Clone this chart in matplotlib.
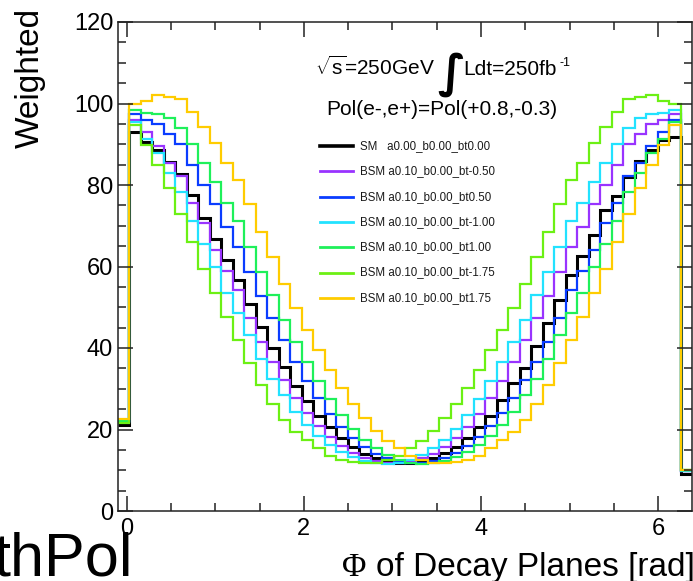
import numpy as np
import matplotlib.pyplot as plt
from matplotlib.lines import Line2D
from matplotlib.ticker import MultipleLocator

plt.rcParams['font.family'] = ['Liberation Sans', 'DejaVu Sans']
plt.rcParams['mathtext.fontset'] = 'custom'
plt.rcParams['mathtext.rm'] = 'Liberation Sans'
plt.rcParams['mathtext.it'] = 'Liberation Sans:italic'

# 50 bins from -0.1 to 2pi+0.1, first and last bins only partly filled
n_bins = 50
x_lo, x_hi = -0.1, 2 * np.pi + 0.1

sm = [21.1,
      93.1, 90.6, 88.6, 85.7, 82.6, 77.6, 72.0, 66.7, 61.6, 56.7, 50.7, 45.2, 40.1, 35.3, 30.7, 27.0,
      23.4, 20.5, 17.9, 15.7, 14.1, 12.9, 12.2, 11.8,
      11.8, 12.2, 12.9, 14.2, 15.8, 17.8, 20.7, 23.3,
      27.2, 31.3, 35.0, 40.5, 46.1, 51.8, 57.9, 62.6, 67.7, 73.9, 77.4, 82.0, 86.0, 88.6, 91.0, 91.9,
      9.0]
bt_m050 = [21.8,
           96.0, 93.1, 89.5, 85.5, 82.3, 75.7, 70.6, 64.0, 59.0, 54.2, 47.3, 41.5, 36.6, 32.1, 27.7, 24.0,
           20.8, 18.2, 16.0, 14.3, 13.1, 12.3, 11.9, 11.8,
           12.2, 12.9, 14.0, 15.6, 17.8, 20.5, 23.8, 27.7,
           32.0, 36.6, 42.0, 47.3, 52.8, 58.7, 64.9, 69.8, 75.3, 79.9, 84.9, 90.0, 92.5, 94.9, 96.0, 97.5,
           9.8]
bt_p050 = [22.0,
           97.5, 96.0, 94.9, 92.5, 90.0, 84.9, 79.9, 75.3, 69.8, 64.9, 58.7, 52.8, 47.3, 42.0, 36.6, 32.0,
           27.7, 23.8, 20.5, 17.8, 15.6, 14.0, 12.9, 12.2,
           11.8, 11.9, 12.3, 13.1, 14.3, 16.0, 18.2, 20.8,
           24.0, 27.7, 32.1, 36.6, 41.5, 47.3, 54.2, 59.0, 64.0, 70.6, 75.7, 82.3, 85.5, 89.5, 93.1, 96.0,
           9.9]
bt_m100 = [21.9,
           95.5, 91.2, 87.8, 82.9, 78.4, 71.2, 65.4, 59.8, 53.4, 48.7, 43.2, 37.2, 32.3, 28.5, 24.4, 21.1,
           18.4, 16.2, 14.5, 13.2, 12.3, 11.8, 11.6, 11.7,
           12.6, 13.8, 15.4, 17.5, 20.2, 23.5, 27.4, 31.8,
           36.6, 41.5, 46.9, 53.0, 58.7, 64.9, 71.2, 75.7, 80.7, 85.3, 90.0, 94.0, 96.4, 97.4, 97.7, 98.3,
           9.9]
bt_p100 = [22.2,
           98.3, 97.7, 97.4, 96.4, 94.0, 90.0, 85.3, 80.7, 75.7, 71.2, 64.9, 58.7, 53.0, 46.9, 41.5, 36.6,
           31.8, 27.4, 23.5, 20.2, 17.5, 15.4, 13.8, 12.6,
           11.7, 11.6, 11.8, 12.3, 13.2, 14.5, 16.2, 18.4,
           21.1, 24.4, 28.5, 32.3, 37.2, 43.2, 48.7, 53.4, 59.8, 65.4, 71.2, 78.4, 82.9, 87.8, 91.2, 95.5,
           10.0]
bt_m175 = [21.7,
           94.7, 89.8, 84.8, 79.2, 73.0, 66.1, 59.5, 53.4, 47.5, 42.0, 36.2, 31.0, 26.2, 22.3, 19.5, 17.4,
           15.4, 13.6, 12.6, 12.0, 11.7, 11.8, 12.4, 13.6,
           15.4, 17.3, 19.7, 22.7, 26.2, 30.2, 34.6, 39.5,
           44.4, 49.7, 55.7, 62.3, 68.5, 75.3, 81.2, 85.3, 90.2, 94.3, 98.0, 101.1, 101.6, 102.1, 100.6, 99.8,
           10.0]
bt_p175 = [22.6,
           99.8, 100.6, 102.1, 101.6, 101.1, 98.0, 94.3, 90.2, 85.3, 81.2, 75.3, 68.5, 62.3, 55.7, 49.7, 44.4,
           39.5, 34.6, 30.2, 26.2, 22.7, 19.7, 17.3, 15.4,
           13.6, 12.4, 11.8, 11.7, 12.0, 12.6, 13.6, 15.4,
           17.4, 19.5, 22.3, 26.2, 31.0, 36.2, 42.0, 47.5, 53.4, 59.5, 66.1, 73.0, 79.2, 84.8, 89.8, 94.7,
           10.1]

labels = ['SM   a0.00_b0.00_bt0.00',
          'BSM a0.10_b0.00_bt-0.50',
          'BSM a0.10_b0.00_bt0.50',
          'BSM a0.10_b0.00_bt-1.00',
          'BSM a0.10_b0.00_bt1.00',
          'BSM a0.10_b0.00_bt-1.75',
          'BSM a0.10_b0.00_bt1.75']
series = [sm, bt_m050, bt_p050, bt_m100, bt_p100, bt_m175, bt_p175]
colors = ['#000000', '#9933ff', '#0a3cff', '#22e2ff', '#1ef05a', '#6cf014', '#ffcc00']
widths = [2.2, 1.6, 1.6, 1.6, 1.6, 1.6, 1.6]

W, H = 693, 581
fig = plt.figure(figsize=(W / 100, H / 100), dpi=100)
ax = fig.add_axes([118 / W, 1 - 511 / H, (692 - 118) / W, (511 - 22) / H])


def fx(px):
    return px / W


def fy(py):
    return 1 - py / H


edges = np.linspace(x_lo, x_hi, n_bins + 1)
for vals, col, lw in zip(series, colors, widths):
    ax.stairs(vals, edges, baseline=None, color=col, lw=lw)

ax.set_xlim(x_lo, x_hi)
ax.set_ylim(0, 120)
ax.set_xticks([0, 2, 4, 6])
ax.xaxis.set_minor_locator(MultipleLocator(0.5))
ax.yaxis.set_major_locator(MultipleLocator(20))
ax.yaxis.set_minor_locator(MultipleLocator(5))
ax.tick_params(which='both', direction='in', top=True, right=True,
               color='#222222', width=1.1)
ax.tick_params(which='major', length=11, labelsize=17)
ax.tick_params(which='minor', length=6)
ax.tick_params(axis='y', pad=3.5)
ax.tick_params(axis='x', pad=5)
for sp in ax.spines.values():
    sp.set_linewidth(1.1)
    sp.set_color('#222222')

# axis titles (ROOT style)
fig.text(fx(30), fy(8), 'Weighted', rotation=90, ha='center', va='top', fontsize=24)
fig.text(fx(342), fy(576), '\u03a6', family='Liberation Serif', fontsize=24, va='baseline')
fig.text(fx(376), fy(576), 'of Decay Planes [rad]', fontsize=24, va='baseline')
fig.text(fx(133), fy(576), 'thPol', fontsize=44, ha='right', va='baseline')

# header
fig.text(fx(315), fy(75), r'$\sqrt{\mathrm{s}}$=250GeV', fontsize=15, va='baseline')
fig.text(fx(451), fy(74), '\u222b', family='DejaVu Sans', fontsize=33, ha='center',
         va='center', fontweight='bold')
fig.text(fx(463), fy(75), 'Ldt=250fb', fontsize=15, va='baseline')
fig.text(fx(559), fy(66), '-1', fontsize=9, va='baseline')
fig.text(fx(442), fy(115), 'Pol(e-,e+)=Pol(+0.8,-0.3)', fontsize=15, ha='center', va='baseline')

# legend
for k, (lab, col, lw) in enumerate(zip(labels, colors, widths)):
    yy = 146 + 25.3 * k
    fig.add_artist(Line2D([fx(320), fx(353)], [fy(yy), fy(yy)], color=col, lw=lw + 0.4))
    fig.text(fx(360), fy(yy), lab, fontsize=8.3, va='center', color='#1a1a1a')

fig.savefig('out.png', dpi=100)
